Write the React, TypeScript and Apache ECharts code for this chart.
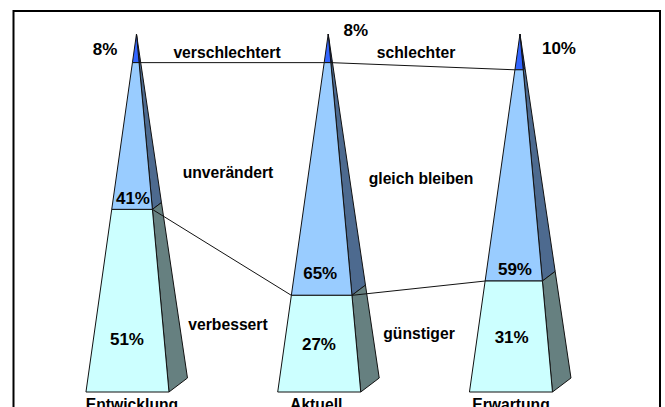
import React, { useEffect, useRef } from "react";
import * as echarts from "echarts";

const categories = ["Entwicklung", "Aktuell", "Erwartung"];
const worse = [8, 8, 10];
const same = [41, 65, 59];
const better = [51, 27, 31];
const labelShiftRight = [9, 24, 18];

const faceColors = ["#3366FF", "#99CCFF", "#CCFFFF"];
const sideColors = ["#1A3380", "#4D6A8F", "#668080"];
const layers = [worse, same, better];
const layerOffsets: number[][][] = [
  [[-31.5, 0.7], [27.5, -18.3], [39, -3]],
  [[-3.5, 62], [-8, 95], [-5, 94.4]],
  [[-9.5, 38.3], [-9.25, 1.3], [-8.3, 0.5]],
];

const sideTexts = [
  { text: "verschlechtert", x: 227, y: 52 },
  { text: "unverändert", x: 228, y: 172 },
  { text: "verbessert", x: 228, y: 324 },
  { text: "schlechter", x: 416, y: 52 },
  { text: "gleich bleiben", x: 421, y: 178 },
  { text: "günstiger", x: 419, y: 333 },
];

const FONT = '"Liberation Sans", Arial, sans-serif';
const LEFT = -0.2634;
const RIGHT = 0.1695;
const BACK = 0.266;
const DEPTH = 14 / 358;

function geom(api: any, idx: number, pct: number) {
  const apex = api.coord([idx, 0]);
  const p = api.coord([idx, pct]);
  const band = api.size([1, 0])[0];
  const base = api.coord([idx, 100]);
  const h = base[1] - apex[1];
  const t = pct / 100;
  return {
    left: [apex[0] + LEFT * band * t, p[1]],
    right: [apex[0] + RIGHT * band * t, p[1]],
    back: [apex[0] + BACK * band * t, p[1] - DEPTH * h * t],
  };
}

function layerSeries(layerIndex: number) {
  return {
    type: "custom",
    silent: true,
    clip: false,
    data: categories.map((_, i) => {
      let start = 0;
      for (let k = 0; k < layerIndex; k++) start += layers[k][i];
      return [i, start, start + layers[layerIndex][i], layers[layerIndex][i]];
    }),
    encode: { x: 0, y: [1, 2] },
    renderItem: (_: any, api: any) => {
      const i = api.value(0);
      const a = geom(api, i, api.value(1));
      const b = geom(api, i, api.value(2));
      const stroke = { stroke: "#111", lineWidth: 1 };
      return {
        type: "group",
        children: [
          {
            type: "polygon",
            shape: { points: [a.right, b.right, b.back, a.back] },
            style: { fill: sideColors[layerIndex], ...stroke },
          },
          {
            type: "polygon",
            shape: { points: [a.left, a.right, b.right, b.left] },
            style: { fill: faceColors[layerIndex], ...stroke },
          },
        ],
      };
    },
  };
}

function valueLabelSeries(layerIndex: number) {
  return {
    type: "custom",
    silent: true,
    clip: false,
    z: 10,
    data: categories.map((_, i) => {
      let start = 0;
      for (let k = 0; k < layerIndex; k++) start += layers[k][i];
      return [i, start + layers[layerIndex][i] / 2, layers[layerIndex][i]];
    }),
    encode: { x: 0, y: 1 },
    renderItem: (_: any, api: any) => {
      const i = api.value(0);
      const off = layerOffsets[layerIndex][i];
      const mid = api.coord([i, api.value(1)]);
      return {
        type: "text",
        x: mid[0] + off[0],
        y: mid[1] + off[1],
        style: {
          text: api.value(2) + "%",
          fill: "#000",
          font: `bold 17px ${FONT}`,
          textAlign: "center",
          textVerticalAlign: "middle",
        },
      };
    },
  };
}

function connectorSeries(level: (i: number) => number, name: string) {
  return {
    type: "custom",
    name,
    silent: true,
    clip: false,
    z: 5,
    data: [0, 1].map((i) => [i, level(i), level(i + 1)]),
    encode: { x: 0, y: [1, 2] },
    renderItem: (_: any, api: any) => {
      const i = api.value(0);
      const a = geom(api, i, api.value(1));
      const b = geom(api, i + 1, api.value(2));
      return {
        type: "line",
        shape: { x1: a.right[0], y1: a.right[1], x2: b.left[0], y2: b.left[1] },
        style: { stroke: "#111", lineWidth: 1 },
      };
    },
  };
}

export default function App() {
  const ref = useRef<HTMLDivElement>(null);
  useEffect(() => {
    document.body.style.margin = "0";
    document.body.style.overflow = "hidden";
    const chart = echarts.init(ref.current!, null, { renderer: "svg" });
    chart.setOption({
      animation: false,
      backgroundColor: "#fff",
      grid: { left: 40.6, top: 34, width: 575.25, height: 358, outerBoundsMode: "none" },
      xAxis: {
        type: "category",
        position: "bottom",
        data: categories.map((c, i) => ({
          value: c,
          textStyle: { padding: [0, labelShiftRight[i], 0, 0] },
        })),
        axisLine: { show: false },
        axisTick: { show: false },
        axisLabel: {
          interval: 0,
          margin: 4,
          hideOverlap: false,
          fontFamily: FONT,
          fontWeight: "bold",
          fontSize: 15.7,
          color: "#000",
        },
      },
      yAxis: { type: "value", min: 0, max: 100, inverse: true, show: false },
      series: [
        layerSeries(0),
        layerSeries(1),
        layerSeries(2),
        connectorSeries((i) => worse[i], "worse line"),
        connectorSeries((i) => worse[i] + same[i], "same line"),
        valueLabelSeries(0),
        valueLabelSeries(1),
        valueLabelSeries(2),
      ],
      graphic: [
        {
          type: "rect",
          shape: { x: 13.5, y: 11, width: 646.5, height: 500 },
          style: { fill: "none", stroke: "#000", lineWidth: 2 },
          silent: true,
        },
        ...sideTexts.map((t) => ({
          type: "text",
          x: t.x,
          y: t.y,
          style: {
            text: t.text,
            fill: "#000",
            font: `bold 15.7px ${FONT}`,
            textAlign: "center",
            textVerticalAlign: "middle",
          },
        })),
      ],
    });
    return () => chart.dispose();
  }, []);
  return <div ref={ref} style={{ width: 665, height: 407 }} />;
}
